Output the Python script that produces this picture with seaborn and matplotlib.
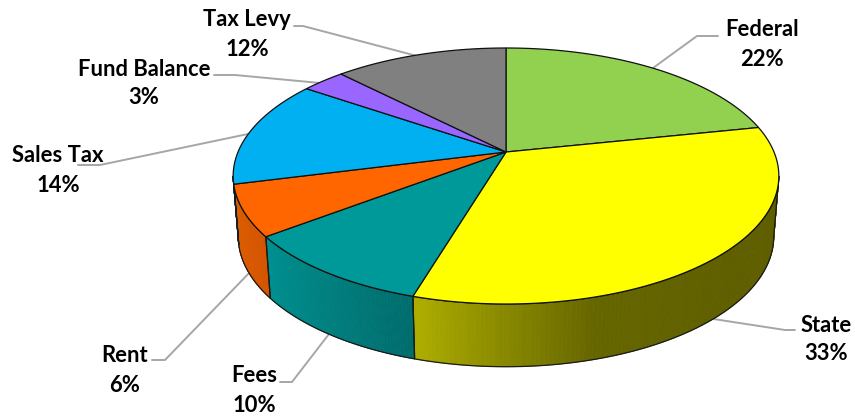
import numpy as np
import seaborn as sns
import matplotlib.pyplot as plt
from matplotlib.collections import PolyCollection
from matplotlib.patches import Polygon

categories = ['Federal', 'State', 'Fees', 'Rent', 'Sales Tax', 'Fund Balance', 'Tax Levy']
values = [21.7, 32.9, 10.0, 6.4, 13.6, 3.1, 12.3]

top_colors = ['#92D050', '#FFFF00', '#009999', '#FF6600', '#00B0F0', '#9966FF', '#808080']
# wall shades run along the rim, right to left
side_colors = {'State': ['#5F5F00', '#5F5F00', '#5F5F00', '#626200', '#666600', '#888800', '#ADAD00'],
               'Fees': ['#006C6C', '#007F7F', '#009090'],
               'Rent': ['#D45500', '#DD5F00'],
               'Sales Tax': ['#0078A8', '#0078A8']}

# label centres, then leader line from slice edge to label (pixels)
label_pos = [(762, 30), (826, 325), (254, 376), (125, 356), (58, 156), (144, 69), (247, 20)]
leaders = [[(653, 68), (697, 36), (718, 36)],
           [(707, 318), (785, 330), (795, 330)],
           [(329, 334), (292, 382), (280, 382)],
           [(252, 270), (165, 360), (152, 360)],
           [(248, 134), (100, 165), (78, 165)],
           [(320, 83), (235, 75), (214, 75)],
           [(417, 56), (303, 26), (294, 26)]]

# perspective of the disc: k is how much the far rim shrinks
CX = 506
K = 0.1875
TOP_Y0, TOP_A, TOP_B = 152, 268, 123.5
BOT_Y0, BOT_A, BOT_B = 212, 263, 125.7


def project(t, y0, a, b):
    u, v = np.sin(t), np.cos(t)
    d = 1 + K * v
    return np.column_stack([CX + a * u / d, y0 - b * v / d])


def top_xy(t):
    return project(t, TOP_Y0, TOP_A, TOP_B)


def bot_xy(t):
    return project(t, BOT_Y0, BOT_A, BOT_B)


sns.set_theme(style='white')
plt.rcParams['font.family'] = ['Lato', 'DejaVu Sans']

fig, ax = plt.subplots(figsize=(8.55, 4.16), dpi=100)
ax.set_position([0, 0, 1, 1])
ax.set_xlim(0, 855)
ax.set_ylim(416, 0)
ax.axis('off')

for pts in leaders:
    xs, ys = zip(*pts)
    ax.plot(xs, ys, color='#A6A6A6', lw=1.4, zorder=1)

edges = np.radians(np.cumsum([0] + values) / sum(values) * 360)

# front wall, only the part of the rim that faces us
front_lo = np.arccos(-K)
front_hi = 2 * np.pi - front_lo
for name, a, b in zip(categories, edges[:-1], edges[1:]):
    lo, hi = max(a, front_lo), min(b, front_hi)
    if lo >= hi:
        continue
    t = np.linspace(lo, hi, 120)
    top, bot = top_xy(t), bot_xy(t)
    quads = [[top[i], top[i + 1], bot[i + 1], bot[i]] for i in range(len(t) - 1)]
    shades = sns.blend_palette(side_colors[name], len(quads))
    ax.add_collection(PolyCollection(quads, facecolors=shades, edgecolors=shades, lw=0.6, zorder=2))
    outline = np.vstack([top, bot[::-1]])
    ax.add_patch(Polygon(outline, closed=True, fill=False, edgecolor='#1A1A1A', lw=0.9, zorder=3))

# lid
for base, a, b in zip(sns.color_palette(top_colors), edges[:-1], edges[1:]):
    t = np.linspace(a, b, 150)
    lid = np.vstack([[CX, TOP_Y0], top_xy(t)])
    ax.add_patch(Polygon(lid, closed=True, facecolor=base, edgecolor='#111111', lw=0.9, zorder=4))

for name, val, (x, y) in zip(categories, values, label_pos):
    ax.text(x, y, name, ha='center', va='center', fontsize=15.8, fontweight='bold', color='black')
    ax.text(x, y + 29, f'{val:.0f}%', ha='center', va='center', fontsize=15.8, fontweight='bold', color='black')

fig.savefig('out.png', dpi=100, facecolor='white')
